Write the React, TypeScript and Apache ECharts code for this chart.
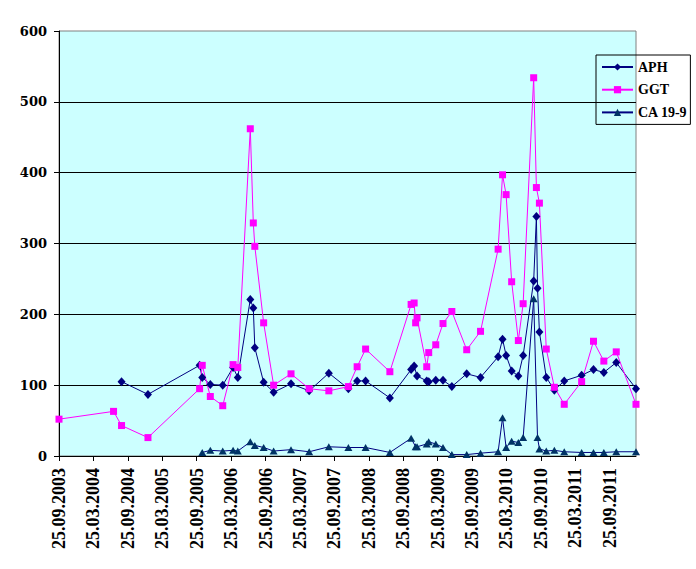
import React, { useEffect, useRef } from "react";
import * as echarts from "echarts";

// Measurement dates (DD.MM.YYYY)
const dates = [
  "25.09.2003", "10.07.2004", "22.08.2004", "10.01.2005", "10.10.2005",
  "24.10.2005", "06.12.2005", "11.02.2006", "05.04.2006", "30.04.2006",
  "05.07.2006", "21.07.2006", "29.07.2006", "15.09.2006", "07.11.2006",
  "08.02.2007", "13.05.2007", "26.08.2007", "08.12.2007", "24.01.2008",
  "08.03.2008", "15.07.2008", "06.11.2008", "22.11.2008", "30.11.2008",
  "07.12.2008", "28.01.2009", "08.02.2009", "15.03.2009", "23.04.2009",
  "09.06.2009", "27.08.2009", "09.11.2009", "11.02.2010", "04.03.2010",
  "23.03.2010", "22.04.2010", "27.05.2010", "22.06.2010", "17.08.2010",
  "01.09.2010", "07.09.2010", "17.09.2010", "23.10.2010", "05.12.2010",
  "27.01.2011", "28.04.2011", "30.06.2011", "24.08.2011", "29.10.2011",
  "12.02.2012",
];

const aph = [
  null, null, 105, 87, 128,
  111, 101, 100, 125, 111,
  221, 209, 153, 104, 90,
  102, 92, 117, 95, 106,
  106, 82, 122, 127, null,
  113, 106, 105, 107, 107,
  98, 116, 111, 140, 165,
  142, 120, 113, 142, 247,
  338, 237, 175, 111, 93,
  106, 114, 122, 118, 132,
  95,
];

const ggt = [
  52, 63, 43, 26, 95,
  128, 84, 71, 129, 125,
  462, 329, 296, 188, 100,
  116, 95, 92, 98, 126,
  151, 119, 214, 216, 188,
  195, 126, 146, 157, 187,
  204, 150, 176, 292, 397,
  369, 246, 163, 215, 534,
  379, null, 357, 151, 97,
  73, 105, 162, 134, 147,
  73,
];

const ca199 = [
  null, null, null, null, null,
  5, 8, 7, 8, 7,
  20, null, 15, 12, 7,
  9, 6, 13, 12, null,
  12, 5, 25, null, 13,
  13, 17, 20, 17, 12,
  2, 2, 4, 6, 54,
  12, 21, 19, 26, 222,
  null, 26, 10, 7, 8,
  6, 5, 5, 5, 6,
  6,
];

const xTickLabels = [
  "25.09.2003", "25.03.2004", "25.09.2004", "25.03.2005", "25.09.2005",
  "25.03.2006", "25.09.2006", "25.03.2007", "25.09.2007", "25.03.2008",
  "25.09.2008", "25.03.2009", "25.09.2009", "25.03.2010", "25.09.2010",
  "25.03.2011", "25.09.2011",
];

const seriesNames = ["APH", "GGT", "CA 19-9"];

function monthPos(s: string): number {
  const [d, mo, y] = s.split(".").map(Number);
  return (y - 2003) * 12 + (mo - 9) + (d - 25) / 30.44;
}

function points(vals: (number | null)[]) {
  const out: [number, number][] = [];
  vals.forEach((v, i) => {
    if (v !== null) out.push([monthPos(dates[i]), v]);
  });
  return out;
}

export default function App() {
  const ref = useRef<HTMLDivElement>(null);

  useEffect(() => {
    document.body.style.margin = "0";
    if (!ref.current) return;
    const chart = echarts.init(ref.current, undefined, { renderer: "svg" });
    const tickVals = xTickLabels.map(monthPos);
    const xMax = monthPos(dates[dates.length - 1]);
    const serif = "'Liberation Serif', 'Times New Roman', serif";
    const wideSerif = "'DejaVu Serif', serif";

    chart.setOption({
      animation: false,
      backgroundColor: "#ffffff",
      grid: {
        left: 59,
        right: 60,
        top: 31,
        bottom: 113,
        show: true,
        backgroundColor: "#CCFFFF",
        borderColor: "#808080",
        borderWidth: 1,
      },
      legend: {
        orient: "vertical",
        left: 596,
        top: 55,
        itemWidth: 31,
        itemHeight: 9,
        itemGap: 8.7,
        padding: [5, 3, 5, 5],
        borderColor: "#000000",
        borderWidth: 1,
        data: seriesNames,
        textStyle: {
          fontFamily: serif,
          fontWeight: "bold",
          fontSize: 14,
          color: "#000000",
        },
      },
      xAxis: {
        type: "value",
        min: 0,
        max: xMax,
        interval: 6,
        axisLine: { show: true, lineStyle: { color: "#000000", width: 1 } },
        axisTick: {
          show: true,
          length: 5,
          customValues: tickVals,
          lineStyle: { color: "#000000" },
        },
        axisLabel: {
          customValues: tickVals,
          rotate: 90,
          margin: 12,
          fontFamily: serif,
          fontWeight: "bold",
          fontSize: 18,
          color: "#000000",
          formatter: (v: number) => {
            const idx = tickVals.findIndex((t) => Math.abs(t - v) < 0.01);
            return idx >= 0 ? xTickLabels[idx] : "";
          },
        },
        splitLine: { show: false },
      },
      yAxis: {
        type: "value",
        min: 0,
        max: 600,
        interval: 100,
        axisLine: { show: true, lineStyle: { color: "#000000", width: 1 } },
        axisTick: { show: true, length: 5, lineStyle: { color: "#000000" } },
        axisLabel: {
          margin: 12,
          fontFamily: wideSerif,
          fontWeight: "bold",
          fontSize: 13,
          color: "#000000",
        },
        splitLine: {
          show: true,
          showMinLine: false,
          showMaxLine: false,
          lineStyle: { color: "#000000", width: 1 },
        },
      },
      series: [
        {
          name: seriesNames[0],
          type: "line",
          data: points(aph),
          symbol: "diamond",
          symbolSize: [8, 9],
          lineStyle: { color: "#000080", width: 1 },
          itemStyle: { color: "#000080" },
        },
        {
          name: seriesNames[1],
          type: "line",
          data: points(ggt),
          symbol: "rect",
          symbolSize: 7,
          lineStyle: { color: "#FF00FF", width: 1 },
          itemStyle: { color: "#FF00FF" },
        },
        {
          name: seriesNames[2],
          type: "line",
          data: points(ca199),
          symbol: "triangle",
          symbolSize: [8, 7],
          lineStyle: { color: "#000080", width: 1 },
          itemStyle: { color: "#003366" },
        },
      ],
    });

    return () => chart.dispose();
  }, []);

  return <div ref={ref} style={{ width: 696, height: 569 }} />;
}
